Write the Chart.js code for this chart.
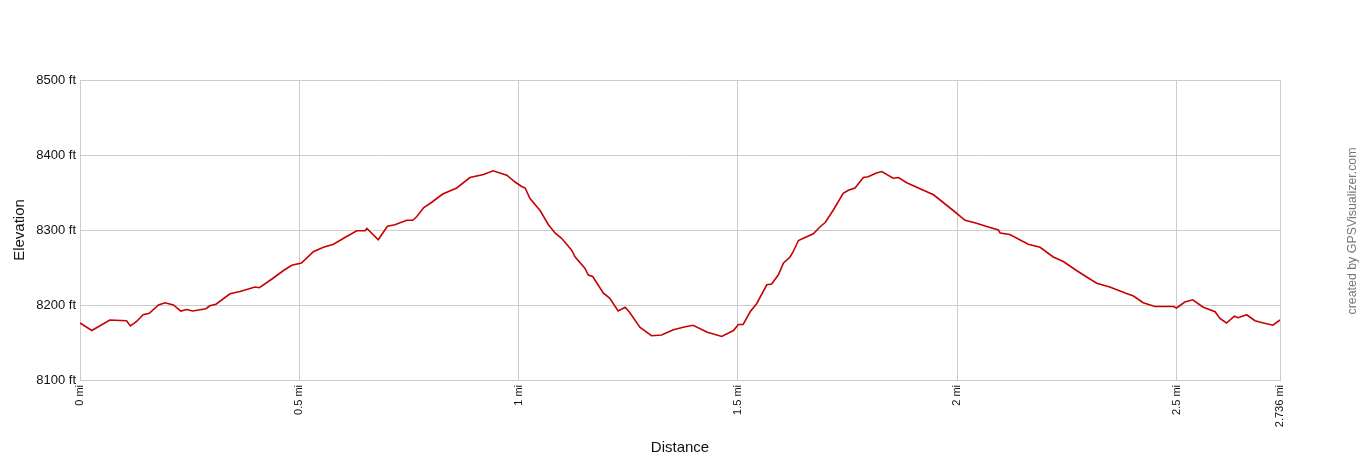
<!DOCTYPE html>
<html>
<head>
<meta charset="utf-8">
<script src="https://cdn.jsdelivr.net/npm/chart.js@4"></script>
<style>
  html, body { margin: 0; padding: 0; background: #fff; }
  #wrap { width: 1360px; height: 460px; }
</style>
</head>
<body>
<div id="wrap"><canvas id="profile"></canvas></div>
<script>
// distance along the track (mi) and elevation (ft)
const distance = [
    0, 0.027, 0.068, 0.106, 0.115, 0.129, 0.144, 0.158, 0.179, 0.194,
    0.213, 0.230, 0.243, 0.257, 0.287, 0.296, 0.310, 0.342, 0.365, 0.399,
    0.409, 0.441, 0.464, 0.483, 0.505, 0.532, 0.555, 0.578, 0.604, 0.631,
    0.650, 0.654, 0.680, 0.701, 0.718, 0.745, 0.759, 0.768, 0.784, 0.802,
    0.827, 0.859, 0.889, 0.920, 0.942, 0.973, 0.992, 1.007, 1.015, 1.026,
    1.049, 1.068, 1.083, 1.098, 1.121, 1.129, 1.151, 1.159, 1.169, 1.193,
    1.208, 1.227, 1.243, 1.252, 1.277, 1.303, 1.326, 1.353, 1.380, 1.398,
    1.429, 1.463, 1.490, 1.501, 1.512, 1.528, 1.543, 1.566, 1.577, 1.592,
    1.604, 1.619, 1.626, 1.638, 1.653, 1.672, 1.687, 1.699, 1.718, 1.740,
    1.752, 1.767, 1.786, 1.797, 1.816, 1.828, 1.854, 1.866, 1.885, 1.923,
    1.946, 1.991, 2.018, 2.044, 2.071, 2.094, 2.098, 2.120, 2.162, 2.189,
    2.219, 2.242, 2.272, 2.288, 2.318, 2.348, 2.383, 2.402, 2.424, 2.451,
    2.493, 2.500, 2.519, 2.537, 2.561, 2.588, 2.599, 2.614, 2.632, 2.641,
    2.660, 2.679, 2.698, 2.720, 2.736
];
const elevation = [
    8176, 8166, 8180, 8179, 8172, 8178, 8187, 8189, 8200, 8203,
    8200, 8192, 8194, 8192, 8195, 8199, 8201, 8215, 8218, 8224,
    8223, 8236, 8246, 8253, 8256, 8271, 8277, 8281, 8290, 8299,
    8299, 8302, 8287, 8305, 8307, 8313, 8313, 8318, 8330, 8337,
    8348, 8356, 8370, 8374, 8379, 8373, 8364, 8358, 8356, 8342,
    8326, 8307, 8296, 8289, 8273, 8264, 8249, 8240, 8238, 8216,
    8209, 8192, 8197, 8191, 8170, 8159, 8160, 8167, 8171, 8173,
    8164, 8158, 8166, 8174, 8174, 8191, 8202, 8227, 8228, 8240,
    8256, 8264, 8271, 8286, 8290, 8295, 8304, 8310, 8327, 8349,
    8353, 8356, 8370, 8371, 8376, 8378, 8369, 8370, 8363, 8353,
    8347, 8326, 8313, 8309, 8304, 8300, 8296, 8294, 8281, 8277,
    8264, 8258, 8246, 8240, 8229, 8224, 8216, 8212, 8203, 8198,
    8198, 8196, 8204, 8207, 8197, 8191, 8182, 8176, 8185, 8183,
    8187, 8179, 8176, 8173, 8180
];
const xTicks = [0, 0.5, 1, 1.5, 2, 2.5, 2.736];
const yTicks = [8100, 8200, 8300, 8400, 8500];

const points = distance.map((d, i) => ({ x: d, y: elevation[i] }));

// vertical credit text on the right side
const creditText = {
    id: 'creditText',
    afterDraw(chart) {
        const ctx = chart.ctx;
        ctx.save();
        ctx.translate(1353, 231);
        ctx.rotate(-Math.PI / 2);
        ctx.font = '12.4px "Liberation Sans", Arial, sans-serif';
        ctx.fillStyle = '#787878';
        ctx.textAlign = 'center';
        ctx.textBaseline = 'middle';
        ctx.fillText('created by GPSVisualizer.com', 0, 0);
        ctx.restore();
    }
};

const font = '"Liberation Sans", Arial, sans-serif';

new Chart(document.getElementById('profile'), {
    type: 'line',
    data: {
        datasets: [{
            data: points,
            borderColor: '#c80000',
            borderWidth: 1.6,
            pointRadius: 0,
            tension: 0,
            fill: false
        }]
    },
    options: {
        responsive: true,
        maintainAspectRatio: false,
        animation: false,
        layout: { padding: { top: 80, right: 80, left: 0, bottom: 0 } },
        plugins: {
            legend: { display: false },
            tooltip: { enabled: false }
        },
        scales: {
            x: {
                type: 'linear',
                min: 0,
                max: 2.736,
                afterBuildTicks: (s) => { s.ticks = xTicks.map(v => ({ value: v })); },
                afterFit: (s) => { s.height = 80; },
                grid: { color: '#cccccc', drawTicks: false },
                border: { color: '#cccccc' },
                ticks: {
                    autoSkip: false,
                    minRotation: 90,
                    maxRotation: 90,
                    padding: 5,
                    color: '#111',
                    font: { family: font, size: 11 },
                    callback: (v) => v + ' mi'
                },
                title: {
                    display: true,
                    text: 'Distance',
                    color: '#111',
                    font: { family: font, size: 15 },
                    padding: { top: 0, bottom: 3 }
                }
            },
            y: {
                min: 8100,
                max: 8500,
                afterBuildTicks: (s) => { s.ticks = yTicks.map(v => ({ value: v })); },
                afterFit: (s) => { s.width = 80; },
                grid: { color: '#cccccc', drawTicks: false },
                border: { color: '#cccccc' },
                ticks: {
                    padding: 4,
                    color: '#111',
                    font: { family: font, size: 13 },
                    callback: (v) => v + ' ft'
                },
                title: {
                    display: true,
                    text: 'Elevation',
                    color: '#111',
                    font: { family: font, size: 15 },
                    padding: { top: 11, bottom: 0 }
                }
            }
        }
    },
    plugins: [creditText]
});
</script>
</body>
</html>
